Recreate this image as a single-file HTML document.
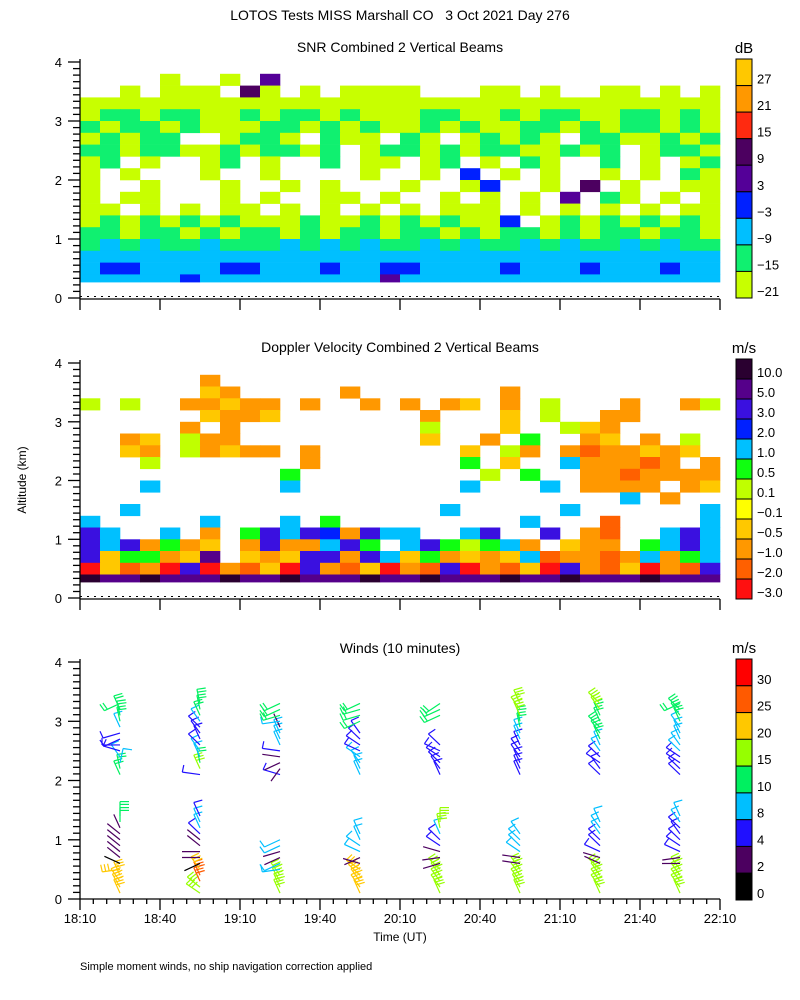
<!DOCTYPE html>
<html><head><meta charset="utf-8">
<style>
html,body{margin:0;padding:0;background:#fff;}
svg{display:block;font-family:"Liberation Sans",sans-serif;}
</style></head>
<body>
<svg id="chart" width="800" height="1000" viewBox="0 0 800 1000" xmlns="http://www.w3.org/2000/svg">
<text x="400" y="20" text-anchor="middle" font-size="14">LOTOS Tests MISS Marshall CO &#160;&#160;3 Oct 2021 Day 276</text>
<text x="400" y="52" text-anchor="middle" font-size="14">SNR Combined 2 Vertical Beams</text>
<text x="400" y="352" text-anchor="middle" font-size="14">Doppler Velocity Combined 2 Vertical Beams</text>
<text x="400" y="653" text-anchor="middle" font-size="14">Winds (10 minutes)</text>
<text x="26" y="480" text-anchor="middle" font-size="12" transform="rotate(-90 26 480)">Altitude (km)</text>
<text x="400" y="941" text-anchor="middle" font-size="12">Time (UT)</text>
<text x="80" y="970" font-size="11">Simple moment winds, no ship navigation correction applied</text>
<g id="layer"></g>
</svg>
<script>
// ---------- data ----------
const timeTicks = ["18:10","18:40","19:10","19:40","20:10","20:40","21:10","21:40","22:10"];
const altTicks = [0,1,2,3,4];
const gridAlts = [3.7,3.5,3.3,3.1,2.9,2.7,2.5,2.3,2.1,1.9,1.7,1.5,1.3,1.1,0.9,0.7,0.5,0.3];
const snrLabels = ["27","21","15","9","3","\u22123","\u22129","\u221215","\u221221"];
const snrColors = ["#ffc800","#ff9800","#ff2a10","#4c0060","#540098","#0020ff","#00bfff","#10f070","#c8ff00"];
// rows: char = level index (0=-21 .. 8=27), '.' blank
const snrRows = [
"....0..0.4......................",
"..0.000.50.0.0000...00.0..00.0.0",
"00000000000000000000000000000000",
"01101100101101000110010110011010",
"10110100011010100101001101011010",
"01011..0110.100.10.01010.1100101",
"1101100101101.0110101100101.0110",
"01.0..01.0..1.00.01.0.10..1.0.01",
"0.0...0..0....0..0.3.0.0..0.0.10",
"0..0...0..0.0...0..03..0.5.0..00",
"0.00...0.0..00.0..0.0.0.4.10.0.0",
"00.0.0.00.0.0.0.0.000.0.0.0.0.00",
"0101010100010010101003.010101010",
"11011010110101101101011010110110",
"12121121112121211212112121121211",
"22222222222222222222222222222222",
"23322223322232233222232223222322",
"22222322222222242222222222222222"];
const dopLabels = ["10.0","5.0","3.0","2.0","1.0","0.5","0.1","\u22120.1","\u22120.5","\u22121.0","\u22122.0","\u22123.0"];
const dopColors = ["#2a0030","#55008a","#3a10e0","#0020ff","#00c0ff","#10ff10","#c0ff00","#ffff00","#ffc800","#ff9800","#ff6000","#ff1010"];
// rows: char = colorbar box index from top (0=10.0 .. b=-3.0)
const dopRows = [
"......9.........................",
"......89.....9.......9..........",
"6.6..99899.9..9.9.98.9.6...9..96",
"......8998.......9...8.6..99....",
".....9.9.........6...8..689.....",
"..98.699.........8..9.5..98.9.6.",
"..89.69899.9.......8.69.9a99898.",
"...6.......9.......5.8..4999a9.9",
"..........5.........6.5..99a9999",
"...4......4........4...4.9999.98",
"...........................4.9..",
"..4...............4.....4......4",
"4.....4...4.5.........4...a....4",
"24..4.9.524239244..42..2.9a..424",
"2429598.9299425.4256549.899.5424",
"2855981.898229248598984a99a94954",
"b8a9b2b9a8b29a8b9a2b9a8b29a8b9a2",
"01101110110111011011101101110111"];
const windLabels = ["30","25","20","15","10","8","4","2","0"];
const windColors = ["#ff0000","#ff5a00","#ffc800","#96ff00","#00f060","#00bfff","#2010ff","#4c0060","#000000"];
const windBins = [0,2,4,8,10,15,20,25,30];
const windTimes = [18.4167,18.9167,19.4167,19.9167,20.4167,20.9167,21.4167,21.9167];
const windAlts = [0.1,0.2,0.3,0.4,0.5,0.6,0.7,0.8,0.9,1.0,1.1,1.2,1.3,1.4,2.1,2.2,2.3,2.4,2.5,2.6,2.7,2.8,2.9,3.0,3.1,3.2,3.3];
const windSpd0 = [22,22,21,21,20,1,3,3,3,3,3,3,13,12, 13,12,9,9,6,6,5,6,9,12,12,13,14];
const windDir0 = [200,205,210,200,280,240,225,225,225,225,225,200,180,180, 200,190,170,210,250,270,300,290,200,190,190,200,300];
const windSpd1 = [16,16,26,26,24,1,3,3,3,3,6,9,8,6, 7,16,12,9,9,6,7,6,6,8,11,12,13];
const windDir1 = [230,225,200,200,210,300,270,270,225,225,220,200,200,200, 260,200,190,200,210,220,200,210,220,210,200,190,190];
const windSpd2 = [16,17,17,18,9,9,3,3,9,9,null,null,null,null, 6,3,3,3,6,9,9,9,3,9,11,12,13];
const windDir2 = [200,200,205,210,280,300,300,290,300,300,0,0,0,0, 250,330,300,260,260,200,200,200,200,280,290,300,300];
const windSpd3 = [21,21,20,20,21,3,3,8,8,9,9,null,null,null, 9,9,9,9,6,6,6,6,null,11,12,12,13];
const windDir3 = [200,210,210,220,230,250,300,240,230,200,200,0,0,0, 200,200,210,230,240,230,220,210,0,300,290,290,300];
const windSpd4 = [17,17,17,18,18,3,3,3,6,6,8,16,16,null, 6,6,6,6,6,6,null,null,null,null,12,12,12];
const windDir4 = [200,210,210,210,220,290,280,250,230,220,200,190,180,0, 200,210,220,230,240,220,0,0,0,0,300,300,310];
const windSpd5 = [17,17,17,17,18,3,3,9,9,9,9,null,null,null, 5,5,5,5,6,6,9,9,12,13,15,15,16];
const windDir5 = [200,205,210,210,210,260,260,230,220,220,210,0,0,0, 200,200,200,210,210,200,200,200,190,190,200,210,200];
const windSpd6 = [17,17,16,17,16,3,3,5,5,5,9,9,9,null, 6,5,6,6,9,9,10,12,12,13,14,15,16];
const windDir6 = [200,210,210,210,220,240,250,240,220,220,210,210,200,0, 220,210,230,220,210,200,200,210,220,200,200,210,220];
const windSpd7 = [17,17,16,16,17,3,3,5,5,5,5,5,9,9, 6,6,6,6,8,8,8,9,9,10,12,12,13];
const windDir7 = [200,210,210,210,210,270,280,240,230,220,210,220,210,200, 220,220,230,230,220,210,200,200,210,200,210,220,300];
const windSpd = [windSpd0,windSpd1,windSpd2,windSpd3,windSpd4,windSpd5,windSpd6,windSpd7];
const windDir = [windDir0,windDir1,windDir2,windDir3,windDir4,windDir5,windDir6,windDir7];

// ---------- scales ----------
const X0=80, X1=720, T0=18+10/60, T1=22+10/60;
function xScale(t){return X0+(t-T0)/(T1-T0)*(X1-X0);}
const panels=[{top:62,bot:298},{top:363,bot:598},{top:662,bot:899}];
function yScale(p,a){const P=panels[p];return P.bot-(a/4)*(P.bot-P.top);}
const NS="http://www.w3.org/2000/svg";
const layer=document.getElementById('layer');
function mk(tag,attrs,parent){const e=document.createElementNS(NS,tag);for(const k in attrs)e.setAttribute(k,attrs[k]);(parent||layer).appendChild(e);return e;}

// ---------- heatmaps ----------
function drawField(p,rows,colors,name,reversed){
  const g=mk('g',{});
  
  
  const ncol=32, dt=(T1-T0)/ncol;
  rows.forEach((row,ri)=>{
    const alt=gridAlts[ri];
    for(let c=0;c<ncol;c++){
      const ch=row[c]; if(!ch||ch==='.') continue;
      const lv=parseInt(ch,16);
      const col=reversed?colors[colors.length-1-lv]:colors[lv];
      const xa=xScale(T0+c*dt), xb=xScale(T0+(c+1)*dt);
      const ya=yScale(p,Math.min(alt+0.1,4)), yb=yScale(p,Math.max(alt-0.1,0.27));
      const r=mk('rect',{x:xa.toFixed(1),y:ya.toFixed(1),width:(xb-xa+0.3).toFixed(1),height:(yb-ya+0.3).toFixed(1),fill:col},g);
      
      
    }
  });
}
drawField(0,snrRows,snrColors,'snr-heatmap',true);
drawField(1,dopRows,dopColors,'doppler-heatmap',false);

// ---------- winds ----------
function windColor(s){let i=0;for(let k=0;k<windBins.length;k++)if(s>=windBins[k])i=k;return windColors[windColors.length-1-i];}
const wg=mk('g',{});


windTimes.forEach((t,pi)=>{
  windAlts.forEach((a,ai)=>{
    const s=windSpd[pi][ai]; if(s===null||s===undefined) return;
    const d=windDir[pi][ai]*Math.PI/180;
    const x=xScale(t), y=yScale(2,a), L=18;
    const ux=Math.sin(d), uy=Math.cos(d);
    const ex=x+ux*L, ey=y+uy*L*0.8;
    const col=windColor(s);
    const b=mk('g',{stroke:col,'stroke-width':1.2,fill:'none'},wg);
    
    
    mk('line',{x1:x,y1:y,x2:ex.toFixed(1),y2:ey.toFixed(1)},b);
    const nb=Math.min(3,Math.floor(s/5));
    for(let k=0;k<nb;k++){
      const bx=ex-ux*k*3.5, by=ey-uy*k*3.5*0.8;
      mk('line',{x1:bx.toFixed(1),y1:by.toFixed(1),x2:(bx-uy*9).toFixed(1),y2:(by+ux*9*0.8).toFixed(1)},b);
    }
  });
});

// ---------- axes ----------
panels.forEach((P,p)=>{
  const ax=mk('g',{stroke:'#000','stroke-width':1.3,fill:'none'});
  
  
  const yb=p<2?P.bot+1:P.bot;
  mk('line',{x1:X0,y1:P.top-3,x2:X0,y2:yb},ax);
  mk('line',{x1:X0,y1:yb,x2:X1,y2:yb},ax);
  if(p<2) mk('line',{x1:X0,y1:P.bot-1.5,x2:X1,y2:P.bot-1.5,'stroke-dasharray':'2,5','stroke-width':1},ax);
  for(let k=0;k<=36;k++){const a=k/9;const y=yScale(p,a);const maj=k%9===0;
    mk('line',{x1:maj?68:73,y1:y.toFixed(1),x2:X0,y2:y.toFixed(1)},ax);}
  altTicks.forEach(a=>{const t=mk('text',{x:62,y:(yScale(p,a)+5).toFixed(1),'text-anchor':'end','font-size':13,fill:'#000',stroke:'none'});t.textContent=a;
    
    });
  for(let m=0;m<=48;m++){const x=xScale(T0+m*5/60);const maj=m%6===0;
    if(maj||p===2) mk('line',{x1:x.toFixed(1),y1:yb,x2:x.toFixed(1),y2:yb+(maj?11:5)},ax);}
});
timeTicks.forEach((lab,i)=>{const t=mk('text',{x:xScale(T0+i*0.5),y:923,'text-anchor':'middle','font-size':13});t.textContent=lab;
  
  });

// ---------- colorbars ----------
function colorbar(top,bot,colors,labels,unit,name){
  const g=mk('g',{});
  
  
  const n=colors.length,h=(bot-top)/n;
  const u=mk('text',{x:744,y:top-6,'text-anchor':'middle','font-size':15},g);u.textContent=unit;
  colors.forEach((c,i)=>{mk('rect',{x:736,y:(top+i*h).toFixed(1),width:16,height:h.toFixed(1),fill:c,stroke:'#000','stroke-width':1},g);
    const t=mk('text',{x:757,y:(top+(i+1)*h-2).toFixed(1),'font-size':13},g);t.textContent=labels[i];});
}
colorbar(59,298,snrColors,snrLabels,'dB','snr-colorbar');
colorbar(359,599,dopColors,dopLabels,'m/s','doppler-colorbar');
colorbar(659,900,windColors,windLabels,'m/s','wind-colorbar');
</script>
</body></html>
